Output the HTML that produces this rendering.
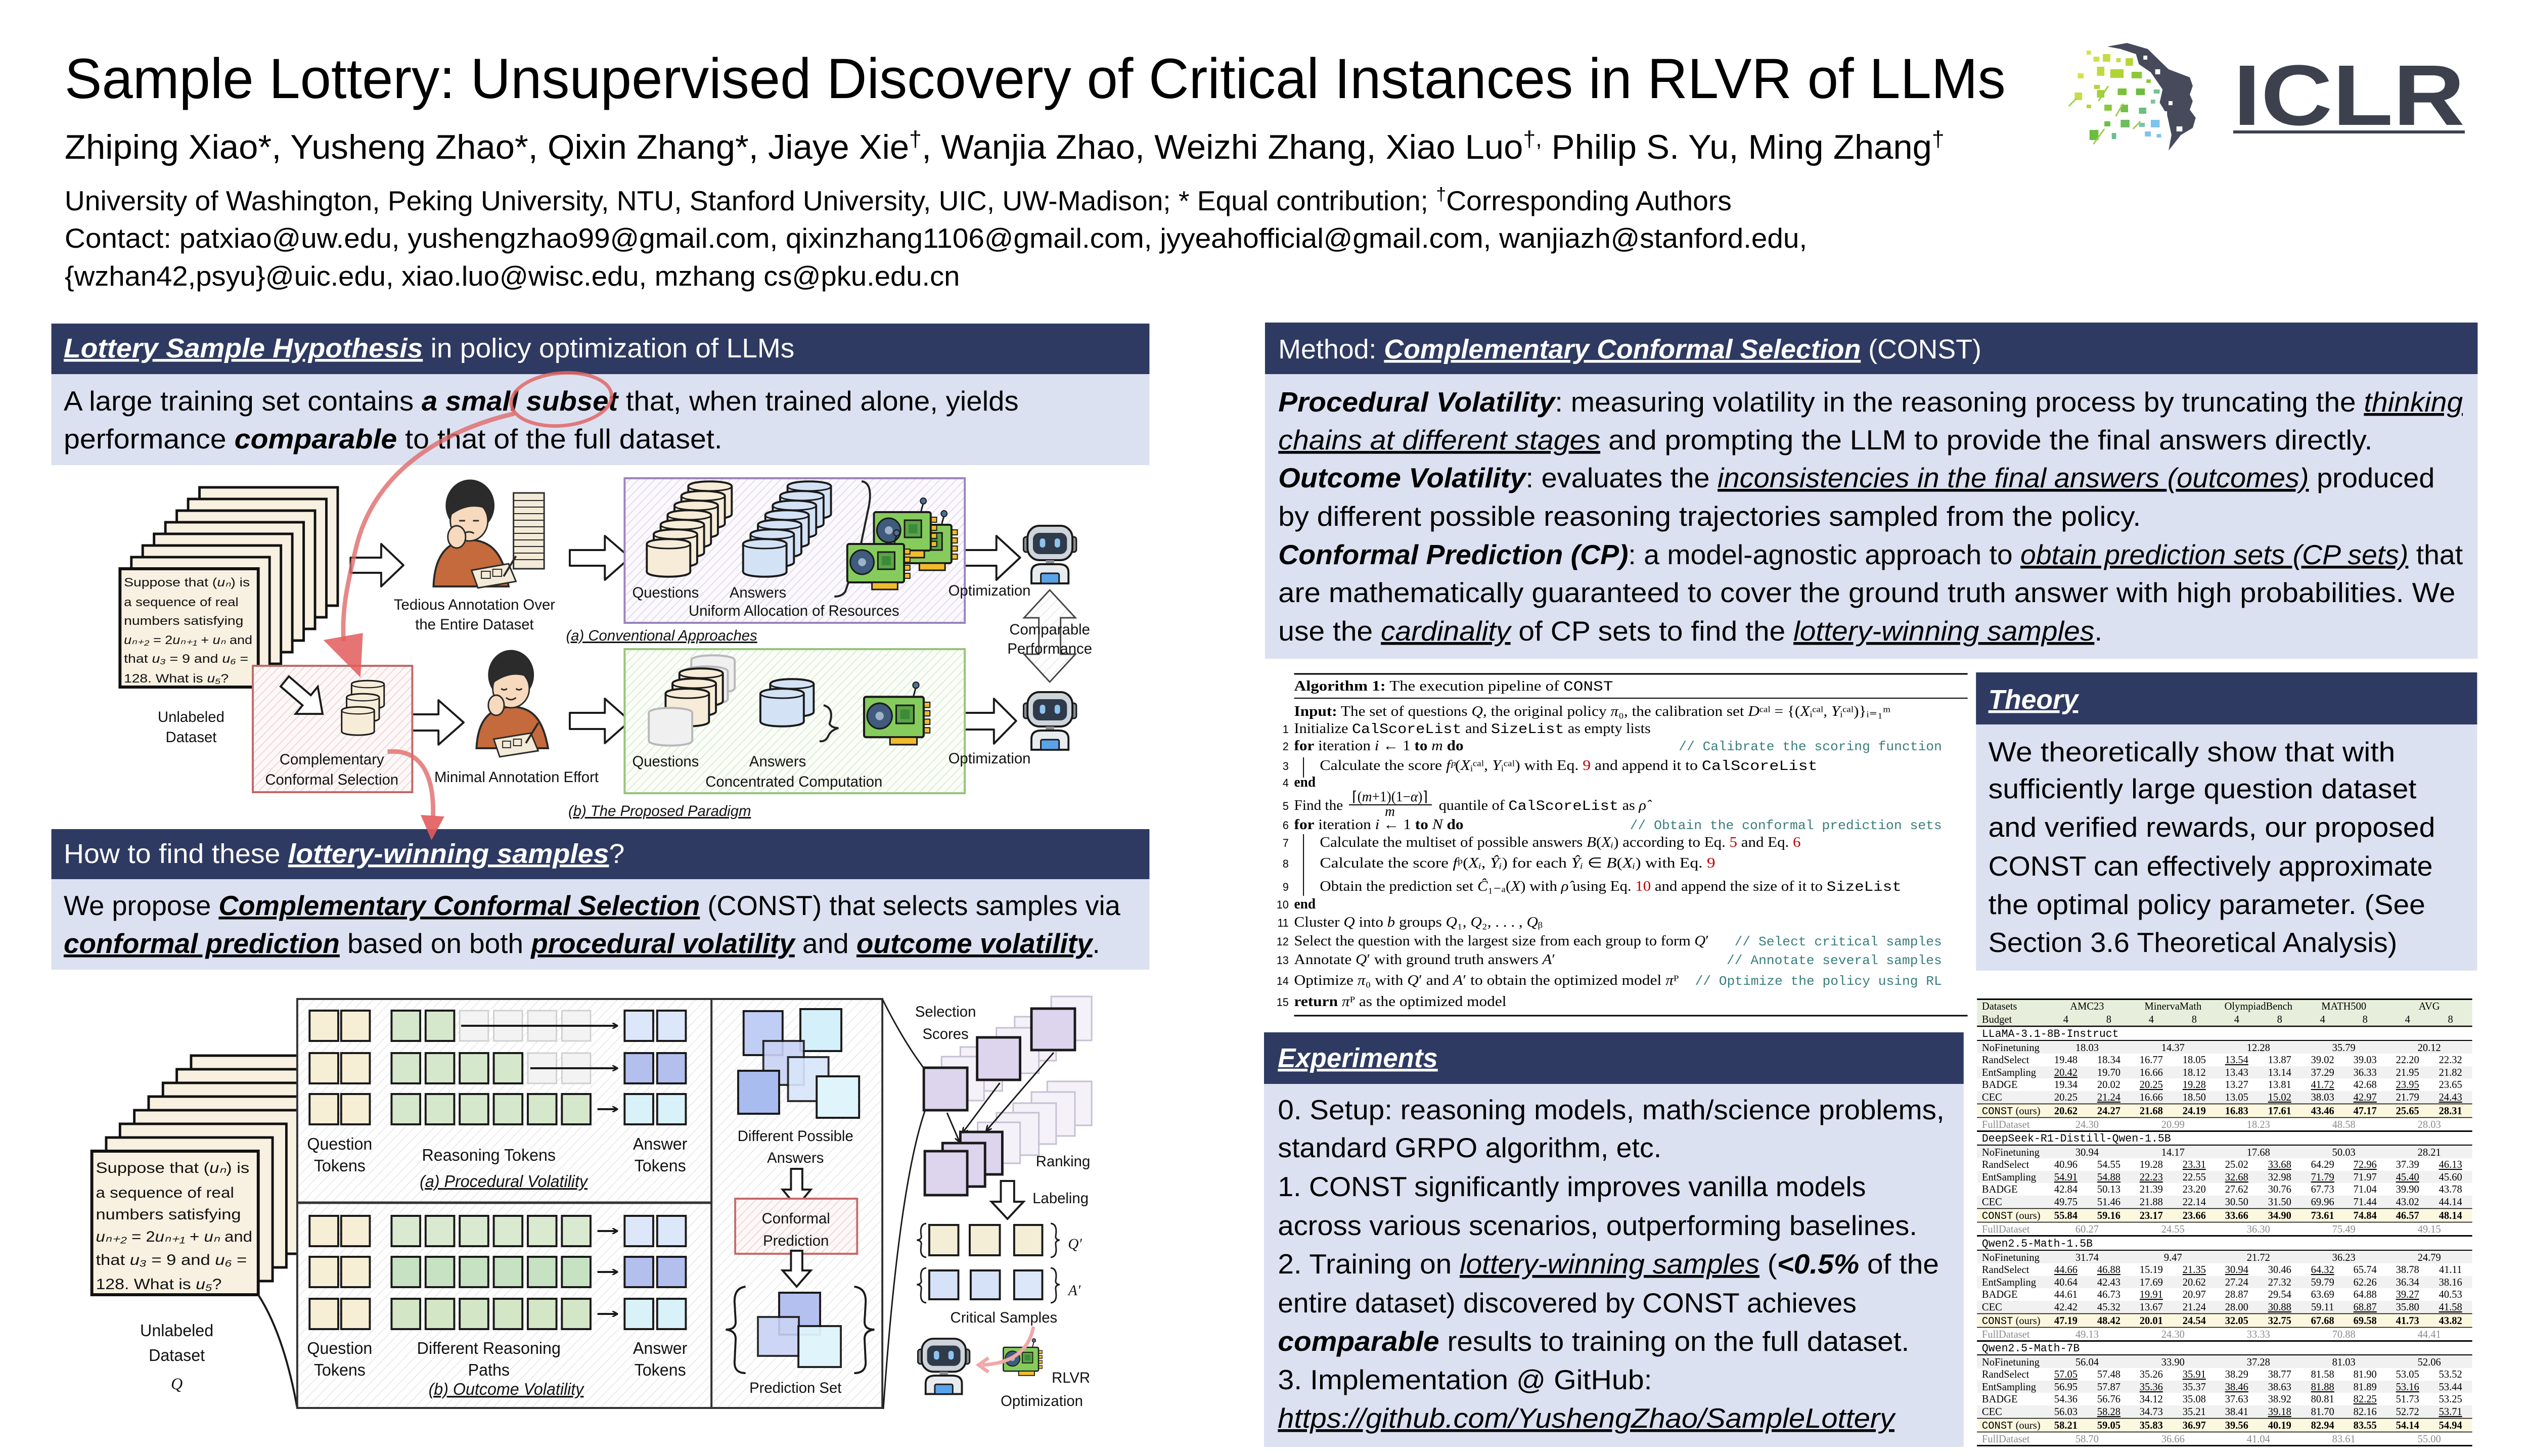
<!DOCTYPE html>
<html><head><meta charset="utf-8">
<style>
html,body{margin:0;padding:0;background:#fff;overflow:hidden;width:100%;height:100%;}
svg{display:block;width:100vw;height:100vh;}
text{font-family:"Liberation Sans",sans-serif;}
.s{font-family:"Liberation Serif",serif}
.m{font-family:"Liberation Mono",monospace}
.bi{font-weight:bold;font-style:italic}
.i{font-style:italic}
.b{font-weight:bold}
.u{text-decoration:underline}
.hd{font-size:54px;fill:#fff}
.bd{font-size:55px;fill:#000}
.lab{font-size:30px;text-anchor:middle;fill:#111}
.lab2{font-size:33px;text-anchor:middle;fill:#111}
.tk{stroke:#1a1a1a;stroke-width:4}
.tf{fill:#f3f3f3;stroke:#d0d0d0;stroke-width:3}
.cm{font-family:"Liberation Mono",monospace;fill:#3a7d7d;font-size:26px;text-anchor:end}
.al{font-family:"Liberation Serif",serif;font-size:28px}
.ln{font-family:"Liberation Serif",serif;font-size:22px;text-anchor:end}
.tb{font-family:"Liberation Serif",serif;font-size:21px}
.tc{font-family:"Liberation Serif",serif;font-size:21px;text-anchor:middle}
.tg{fill:#8a8a8a}
.pp{font-size:24px}
.pp2{font-size:30px}
</style></head><body>
<svg xmlns="http://www.w3.org/2000/svg" width="5120" height="2880" viewBox="0 0 5120 2880" preserveAspectRatio="none">
<defs>
<pattern id="hatch" width="14" height="14" patternUnits="userSpaceOnUse" patternTransform="rotate(45)"><line x1="0" y1="0" x2="0" y2="14" stroke="#e2e2e2" stroke-width="2.5"/></pattern>
<pattern id="hP" width="12" height="12" patternUnits="userSpaceOnUse" patternTransform="rotate(45)"><rect width="12" height="12" fill="#fbf9fd"/><line x1="0" y1="0" x2="0" y2="12" stroke="#ddd3ea" stroke-width="3"/></pattern>
<pattern id="hG" width="12" height="12" patternUnits="userSpaceOnUse" patternTransform="rotate(45)"><rect width="12" height="12" fill="#fafdf8"/><line x1="0" y1="0" x2="0" y2="12" stroke="#d6e8c8" stroke-width="3"/></pattern>
<pattern id="hR" width="12" height="12" patternUnits="userSpaceOnUse" patternTransform="rotate(45)"><rect width="12" height="12" fill="#fdf8f8"/><line x1="0" y1="0" x2="0" y2="12" stroke="#efcccc" stroke-width="3"/></pattern>
<marker id="ah" markerWidth="12" markerHeight="12" refX="10" refY="6" orient="auto" markerUnits="userSpaceOnUse"><path d="M0,0 L11,6 L0,12" fill="none" stroke="#1a1a1a" stroke-width="3"/></marker>
<g id="cylQ"><path d="M0,10 C0,-3 88,-3 88,10 L88,65 C88,78 0,78 0,65 Z" fill="#f6ecd8" stroke="#1a1a1a" stroke-width="4"/><path d="M0,10 C0,22 88,22 88,10" fill="none" stroke="#1a1a1a" stroke-width="3"/></g>
<g id="cylA"><path d="M0,10 C0,-3 88,-3 88,10 L88,65 C88,78 0,78 0,65 Z" fill="#d4e2f6" stroke="#1a1a1a" stroke-width="4"/><path d="M0,10 C0,22 88,22 88,10" fill="none" stroke="#1a1a1a" stroke-width="3"/></g>
<g id="cylF"><path d="M0,10 C0,-3 88,-3 88,10 L88,65 C88,78 0,78 0,65 Z" fill="#f0f0f0" stroke="#b8b8b8" stroke-width="4"/></g>
<g id="gpu">
<line x1="95" y1="8" x2="100" y2="-10" stroke="#1a1a1a" stroke-width="3"/><circle cx="100" cy="-14" r="6" fill="#4d6f92" stroke="#1a1a1a" stroke-width="2"/>
<rect x="115" y="18" width="12" height="10" fill="#f0bb2e" stroke="#1a1a1a" stroke-width="2"/><rect x="115" y="34" width="12" height="10" fill="#f0bb2e" stroke="#1a1a1a" stroke-width="2"/><rect x="115" y="50" width="12" height="10" fill="#f0bb2e" stroke="#1a1a1a" stroke-width="2"/><rect x="115" y="66" width="12" height="10" fill="#f0bb2e" stroke="#1a1a1a" stroke-width="2"/>
<rect x="0" y="8" width="115" height="76" rx="4" fill="#86cc5c" stroke="#1a1a1a" stroke-width="4"/>
<circle cx="30" cy="44" r="24" fill="#3f5b7d" stroke="#1a1a1a" stroke-width="3"/><circle cx="30" cy="44" r="8" fill="#9fb3c8"/>
<rect x="62" y="24" width="34" height="34" fill="#5aa544" stroke="#1a1a1a" stroke-width="3"/><rect x="70" y="32" width="18" height="18" fill="#3d8a3a"/>
<rect x="50" y="84" width="52" height="14" fill="#f0bb2e" stroke="#1a1a1a" stroke-width="3"/>
</g>
<g id="robot">
<rect x="0" y="22" width="12" height="30" rx="5" fill="#8a8f96" stroke="#1a1a1a" stroke-width="3"/>
<rect x="95" y="22" width="12" height="30" rx="5" fill="#8a8f96" stroke="#1a1a1a" stroke-width="3"/>
<rect x="8" y="0" width="91" height="68" rx="24" fill="#cfd4da" stroke="#1a1a1a" stroke-width="4"/>
<rect x="19" y="14" width="69" height="42" rx="13" fill="#2f3a4a"/>
<rect x="33" y="25" width="11" height="18" rx="5" fill="#8ec3ee"/>
<rect x="63" y="25" width="11" height="18" rx="5" fill="#8ec3ee"/>
<rect x="45" y="68" width="17" height="8" fill="#8a8f96"/>
<path d="M16,114 L16,92 Q16,76 36,76 L71,76 Q91,76 91,92 L91,114 Z" fill="#e9ecef" stroke="#1a1a1a" stroke-width="4"/>
<rect x="35" y="94" width="37" height="20" rx="3" fill="#5aa3e8" stroke="#1a1a1a" stroke-width="3"/>
</g>
</defs>

<!-- ================= HEADER ================= -->
<text x="131" y="194" font-size="112" textLength="3931" lengthAdjust="spacingAndGlyphs">Sample Lottery: Unsupervised Discovery of Critical Instances in RLVR of LLMs</text>
<text x="131" y="314" font-size="68" textLength="3807" lengthAdjust="spacingAndGlyphs">Zhiping Xiao*, Yusheng Zhao*, Qixin Zhang*, Jiaye Xie<tspan font-size="44" baseline-shift="super">†</tspan>, Wanjia Zhao, Weizhi Zhang, Xiao Luo<tspan font-size="44" baseline-shift="super">†,</tspan> Philip S. Yu, Ming Zhang<tspan font-size="44" baseline-shift="super">†</tspan></text>
<text x="131" y="416" font-size="55" textLength="3376" lengthAdjust="spacingAndGlyphs">University of Washington, Peking University, NTU, Stanford University, UIC, UW-Madison; * Equal contribution; <tspan font-size="36" baseline-shift="super">†</tspan>Corresponding Authors</text>
<text x="131" y="490" font-size="55" textLength="3529" lengthAdjust="spacingAndGlyphs">Contact: patxiao@uw.edu, yushengzhao99@gmail.com, qixinzhang1106@gmail.com, jyyeahofficial@gmail.com, wanjiazh@stanford.edu,</text>
<text x="131" y="565" font-size="55" textLength="1813" lengthAdjust="spacingAndGlyphs">{wzhan42,psyu}@uic.edu, xiao.luo@wisc.edu, mzhang cs@pku.edu.cn</text>

<!-- ICLR logo -->
<g>
<path d="M4268,92 L4308,85 L4350,97 L4374,120 L4392,137 L4435,153 L4441,170 L4435,187 L4441,200 L4435,217 L4447,233 L4441,253 L4417,267 L4392,298 L4398,267 L4389,227 L4374,203 L4380,177 L4356,143 L4332,127 L4326,107 L4295,97 Z" fill="#464a5a"/>
<rect x="4341" y="110" width="8" height="8" fill="#fff"/><rect x="4365" y="137" width="10" height="10" fill="#fff"/><rect x="4392" y="200" width="8" height="8" fill="#fff"/><rect x="4377" y="220" width="12" height="12" fill="#fff"/><rect x="4408" y="250" width="12" height="10" fill="#fff"/>
<rect x="4226" y="100" width="9" height="8" fill="#d4e24c"/><rect x="4240" y="112" width="12" height="10" fill="#cfe04a"/><rect x="4259" y="107" width="15" height="15" fill="#c5dc40"/><rect x="4286" y="115" width="9" height="8" fill="#c5dc40"/><rect x="4305" y="115" width="15" height="15" fill="#b6d638"/><rect x="4247" y="132" width="15" height="18" fill="#c0da3e"/><rect x="4274" y="137" width="27" height="17" fill="#aed436"/><rect x="4317" y="142" width="21" height="13" fill="#8cc83a"/><rect x="4208" y="145" width="12" height="10" fill="#d4e24c"/><rect x="4347" y="157" width="9" height="7" fill="#8cc83a"/><rect x="4241" y="168" width="12" height="8" fill="#b4d43a"/><rect x="4289" y="175" width="18" height="13" fill="#7cc03a"/><rect x="4326" y="175" width="18" height="13" fill="#6cbc40"/><rect x="4202" y="183" width="15" height="15" fill="#c6dc44"/><rect x="4247" y="178" width="15" height="15" fill="#a4d03a"/><rect x="4362" y="177" width="12" height="8" fill="#74c090"/><rect x="4262" y="207" width="15" height="12" fill="#8cc83c"/><rect x="4295" y="207" width="15" height="15" fill="#74bf48"/><rect x="4332" y="213" width="15" height="12" fill="#6cbf80"/><rect x="4226" y="207" width="9" height="7" fill="#b4d43a"/><rect x="4356" y="197" width="9" height="8" fill="#80c4a0"/><rect x="4262" y="240" width="12" height="10" fill="#6cbd48"/><rect x="4295" y="237" width="18" height="15" fill="#6cbd60"/><rect x="4332" y="243" width="12" height="8" fill="#78c4b0"/><rect x="4356" y="237" width="18" height="15" fill="#7cc4ec"/><rect x="4232" y="257" width="18" height="20" fill="#6cbc40"/><rect x="4277" y="263" width="9" height="12" fill="#6cbf90"/><rect x="4344" y="260" width="12" height="10" fill="#7cc4ec"/><rect x="4368" y="265" width="9" height="7" fill="#7cc4ec"/>
<path d="M4190,210 L4205,195 M4250,200 L4270,170 M4285,230 L4300,205 M4240,285 L4262,255 M4320,255 L4335,240" stroke="#9ccc44" stroke-width="3" fill="none"/>
<text x="4523" y="247" font-size="170" font-weight="bold" fill="#3c414d" textLength="469" lengthAdjust="spacingAndGlyphs">ICLR</text>
<rect x="4523" y="258" width="469" height="6" fill="#3c414d"/>
</g>

<!-- ================= LEFT COLUMN BOXES ================= -->
<rect x="104" y="640" width="2224" height="100" fill="#2e3a62"/>
<rect x="104" y="740" width="2224" height="180" fill="#dce1f1"/>
<text class="hd" x="129" y="707" textLength="1480" lengthAdjust="spacingAndGlyphs"><tspan class="bi u">Lottery Sample Hypothesis</tspan> in policy optimization of LLMs</text>
<text class="bd" x="129" y="812" font-size="56" textLength="1934" lengthAdjust="spacingAndGlyphs">A large training set contains <tspan class="bi">a small subset</tspan> that, when trained alone, yields</text>
<text class="bd" x="129" y="887" font-size="56" textLength="1334" lengthAdjust="spacingAndGlyphs">performance <tspan class="bi">comparable</tspan> to that of the full dataset.</text>

<rect x="104" y="1640" width="2224" height="99" fill="#2e3a62"/>
<rect x="104" y="1739" width="2224" height="179" fill="#dce1f1"/>
<text class="hd" x="129" y="1707" textLength="1136" lengthAdjust="spacingAndGlyphs">How to find these <tspan class="bi u">lottery-winning samples</tspan>?</text>
<text class="bd" x="129" y="1810" font-size="56" textLength="2140" lengthAdjust="spacingAndGlyphs">We propose <tspan class="bi u">Complementary Conformal Selection</tspan> (CONST) that selects samples via</text>
<text class="bd" x="129" y="1885" font-size="56" textLength="2099" lengthAdjust="spacingAndGlyphs"><tspan class="bi u">conformal prediction</tspan> based on both <tspan class="bi u">procedural volatility</tspan> and <tspan class="bi u">outcome volatility</tspan>.</text>

<!-- ================= FIGURE 1 ================= -->
<g fill="#f8f0e0" stroke="#111" stroke-width="5">
<rect x="404" y="964" width="280" height="234"/>
<rect x="381" y="987" width="280" height="234"/>
<rect x="358" y="1010" width="280" height="234"/>
<rect x="335" y="1033" width="280" height="234"/>
<rect x="312" y="1056" width="280" height="234"/>
<rect x="289" y="1079" width="280" height="234"/>
<rect x="266" y="1102" width="280" height="234"/>
<rect x="243" y="1125" width="280" height="234" stroke-width="6"/>
</g>
<g class="pp" fill="#111">
<text x="251" y="1160" textLength="255" lengthAdjust="spacingAndGlyphs">Suppose that (<tspan class="i">uₙ</tspan>) is</text>
<text x="251" y="1199" textLength="232" lengthAdjust="spacingAndGlyphs">a sequence of real</text>
<text x="251" y="1236" textLength="242" lengthAdjust="spacingAndGlyphs">numbers satisfying</text>
<text x="251" y="1274" textLength="260" lengthAdjust="spacingAndGlyphs"><tspan class="i">uₙ₊₂</tspan> = 2<tspan class="i">uₙ₊₁</tspan> + <tspan class="i">uₙ</tspan> and</text>
<text x="251" y="1311" textLength="252" lengthAdjust="spacingAndGlyphs">that <tspan class="i">u₃</tspan> = 9 and <tspan class="i">u₆</tspan> =</text>
<text x="251" y="1350" textLength="212" lengthAdjust="spacingAndGlyphs">128. What is <tspan class="i">u₅</tspan>?</text>
</g>
<text class="lab" x="387" y="1428" font-size="32">Unlabeled</text>
<text class="lab" x="387" y="1468" font-size="32">Dataset</text>

<g fill="#fff" stroke="#1a1a1a" stroke-width="4" stroke-linejoin="round">
<path d="M710,1103 L772,1103 L772,1076 L817,1118 L772,1160 L772,1133 L710,1133 Z"/>
<path d="M1154,1088 L1225,1088 L1225,1060 L1276,1103 L1225,1147 L1225,1119 L1154,1119 Z"/>
<path d="M1951,1088 L2018,1088 L2018,1060 L2066,1103 L2018,1147 L2018,1119 L1951,1119 Z"/>
<path d="M817,1413 L888,1413 L888,1385 L939,1429 L888,1473 L888,1445 L817,1445 Z"/>
<path d="M1154,1410 L1225,1410 L1225,1382 L1276,1426 L1225,1470 L1225,1442 L1154,1442 Z"/>
<path d="M1951,1410 L2013,1410 L2013,1382 L2058,1426 L2013,1471 L2013,1443 L1951,1443 Z"/>
</g>

<!-- tired person -->
<g stroke="#2a2a2a" stroke-width="3">
<rect x="1040" y="975" width="62" height="150" fill="#f3ead8"/>
<path d="M1040,990 H1102 M1040,1003 H1102 M1040,1016 H1102 M1040,1029 H1102 M1040,1042 H1102 M1040,1055 H1102 M1040,1068 H1102 M1040,1081 H1102 M1040,1094 H1102 M1040,1107 H1102" fill="none" stroke-width="2"/>
<path d="M878,1160 C880,1100 905,1070 950,1068 C995,1068 1020,1095 1030,1160 Z" fill="#c56a3c" stroke-width="4"/>
<ellipse cx="952" cy="1000" rx="48" ry="50" fill="#2b2b2b"/>
<ellipse cx="950" cy="1030" rx="38" ry="40" fill="#f7d9bd"/>
<path d="M912,1015 Q930,975 990,995 L988,1008 Q950,992 912,1020 Z" fill="#2b2b2b" stroke="none"/>
<path d="M930,1030 h12 M958,1030 h12 M940,1055 q10,-6 20,0" fill="none"/>
<ellipse cx="925" cy="1062" rx="18" ry="22" fill="#f7d9bd"/>
<polygon points="955,1128 1030,1115 1045,1150 968,1163" fill="#f3ead8"/>
<rect x="975" y="1130" width="18" height="14" fill="none" stroke-width="2"/><rect x="998" y="1126" width="18" height="14" fill="none" stroke-width="2"/>
<line x1="1020" y1="1140" x2="1045" y2="1100" stroke-width="4"/>
</g>
<text class="lab" x="961" y="1206">Tedious Annotation Over</text>
<text class="lab" x="961" y="1245">the Entire Dataset</text>

<!-- purple box -->
<rect x="1265" y="946" width="689" height="286" fill="url(#hP)" stroke="#9b84bd" stroke-width="4"/>
<use href="#cylQ" x="1394" y="952"/><use href="#cylQ" x="1380" y="971"/><use href="#cylQ" x="1366" y="990"/><use href="#cylQ" x="1352" y="1009"/><use href="#cylQ" x="1338" y="1028"/><use href="#cylQ" x="1324" y="1047"/><use href="#cylQ" x="1310" y="1066"/>
<use href="#cylA" x="1595" y="952"/><use href="#cylA" x="1580" y="971"/><use href="#cylA" x="1565" y="990"/><use href="#cylA" x="1550" y="1009"/><use href="#cylA" x="1535" y="1028"/><use href="#cylA" x="1520" y="1047"/><use href="#cylA" x="1505" y="1066"/>
<path d="M1745,952 Q1768,955 1760,1000 L1745,1070 Q1740,1090 1758,1098 Q1735,1102 1728,1125 L1712,1170 Q1705,1180 1690,1180" fill="none" stroke="#222" stroke-width="4"/>
<use href="#gpu" transform="translate(1812,1030)"/>
<use href="#gpu" transform="translate(1770,1005)"/>
<use href="#gpu" transform="translate(1716,1068)"/>
<text class="lab" x="1348" y="1182" font-size="28">Questions</text>
<text class="lab" x="1535" y="1182" font-size="28">Answers</text>
<text class="lab" x="1608" y="1218">Uniform Allocation of Resources</text>
<text class="lab i u" x="1340" y="1267">(a) Conventional Approaches</text>

<use href="#robot" x="2073" y="1040"/>
<text class="lab" x="2004" y="1178" font-size="28">Optimization</text>
<path d="M2126,1167 L2178,1222 L2148,1222 L2148,1294 L2178,1294 L2126,1349 L2074,1294 L2104,1294 L2104,1222 L2074,1222 Z" fill="url(#hatch)" stroke="#444" stroke-width="3"/>
<text class="lab" x="2126" y="1255" font-size="28">Comparable</text>
<text class="lab" x="2126" y="1293" font-size="28">Performance</text>

<!-- CCS box -->
<rect x="512" y="1317" width="323" height="250" fill="url(#hR)" stroke="#c06868" stroke-width="4"/>
<path d="M565,1367 L623,1367 L623,1345 L665,1380 L623,1415 L623,1393 L565,1393 Z" transform="rotate(40 615 1380)" fill="#fff" stroke="#1a1a1a" stroke-width="4"/>
<use href="#cylQ" transform="translate(712,1346) scale(0.75)"/>
<use href="#cylQ" transform="translate(702,1372) scale(0.75)"/>
<use href="#cylQ" transform="translate(692,1398) scale(0.75)"/>
<text class="lab" x="672" y="1512">Complementary</text>
<text class="lab" x="672" y="1552">Conformal Selection</text>

<!-- happy person -->
<g stroke="#2a2a2a" stroke-width="3">
<path d="M965,1480 C968,1420 995,1400 1035,1398 C1080,1398 1100,1425 1110,1480 Z" fill="#c56a3c" stroke-width="4"/>
<ellipse cx="1035" cy="1335" rx="45" ry="48" fill="#2b2b2b"/>
<ellipse cx="1035" cy="1362" rx="37" ry="38" fill="#f7d9bd"/>
<path d="M998,1345 Q1020,1305 1072,1330 L1070,1340 Q1035,1325 998,1352 Z" fill="#2b2b2b" stroke="none"/>
<path d="M1015,1362 q6,5 12,0 M1045,1362 q6,5 12,0 M1025,1380 q10,8 20,0" fill="none"/>
<ellipse cx="1005" cy="1395" rx="16" ry="20" fill="#f7d9bd"/>
<polygon points="1000,1462 1075,1450 1090,1485 1012,1497" fill="#f3ead8"/>
<rect x="1018" y="1466" width="16" height="13" fill="none" stroke-width="2"/><rect x="1040" y="1462" width="16" height="13" fill="none" stroke-width="2"/>
<line x1="1065" y1="1470" x2="1090" y2="1430" stroke-width="4"/>
</g>
<text class="lab" x="1046" y="1547">Minimal Annotation Effort</text>

<!-- green box -->
<rect x="1265" y="1284" width="689" height="285" fill="url(#hG)" stroke="#95c47a" stroke-width="4"/>
<use href="#cylF" x="1400" y="1296"/><use href="#cylF" x="1386" y="1318"/>
<use href="#cylQ" x="1376" y="1322"/><use href="#cylQ" x="1362" y="1342"/><use href="#cylQ" x="1348" y="1362"/>
<use href="#cylF" x="1314" y="1400"/>
<use href="#cylA" x="1560" y="1343"/><use href="#cylA" x="1540" y="1362"/>
<path d="M1668,1395 Q1688,1400 1682,1425 L1680,1432 Q1685,1440 1698,1440 Q1682,1445 1678,1455 Q1672,1468 1660,1466" fill="none" stroke="#222" stroke-width="4"/>
<use href="#gpu" transform="translate(1750,1370) scale(1.05)"/>
<text class="lab" x="1348" y="1516" font-size="28">Questions</text>
<text class="lab" x="1575" y="1516" font-size="28">Answers</text>
<text class="lab" x="1608" y="1556">Concentrated Computation</text>
<text class="lab i u" x="1336" y="1614">(b) The Proposed Paradigm</text>

<use href="#robot" x="2073" y="1369"/>
<text class="lab" x="2004" y="1510" font-size="28">Optimization</text>

<!-- red circle and arrows -->
<ellipse cx="1137" cy="790" rx="102" ry="52" fill="none" stroke="#e06666" stroke-width="7" opacity="0.85" transform="rotate(-5 1137 790)"/>
<path d="M1042,818 C900,850 760,930 722,1080 C702,1160 692,1210 696,1268" fill="none" stroke="#e06a6a" stroke-width="9" opacity="0.8"/>
<polygon points="655,1266 735,1252 730,1340" fill="#e25c5c" opacity="0.85"/>
<path d="M785,1487 C850,1480 880,1530 877,1615" fill="none" stroke="#e06a6a" stroke-width="9" opacity="0.8"/>
<polygon points="852,1612 900,1615 874,1662" fill="#e25c5c" opacity="0.9"/>

<!-- ================= FIGURE 2 ================= -->
<g fill="#f8f0e0" stroke="#111" stroke-width="5">
<rect x="387" y="2088" width="337" height="284"/>
<rect x="358" y="2115" width="337" height="284"/>
<rect x="330" y="2142" width="337" height="284"/>
<rect x="301" y="2169" width="337" height="284"/>
<rect x="272" y="2196" width="337" height="284"/>
<rect x="243" y="2223" width="337" height="284"/>
<rect x="215" y="2250" width="337" height="284"/>
<rect x="186" y="2277" width="337" height="284" stroke-width="6"/>
</g>
<g class="pp2" fill="#111">
<text x="194" y="2320" textLength="311" lengthAdjust="spacingAndGlyphs">Suppose that (<tspan class="i">uₙ</tspan>) is</text>
<text x="194" y="2369" textLength="280" lengthAdjust="spacingAndGlyphs">a sequence of real</text>
<text x="194" y="2412" textLength="294" lengthAdjust="spacingAndGlyphs">numbers satisfying</text>
<text x="194" y="2456" textLength="317" lengthAdjust="spacingAndGlyphs"><tspan class="i">uₙ₊₂</tspan> = 2<tspan class="i">uₙ₊₁</tspan> + <tspan class="i">uₙ</tspan> and</text>
<text x="194" y="2502" textLength="306" lengthAdjust="spacingAndGlyphs">that <tspan class="i">u₃</tspan> = 9 and <tspan class="i">u₆</tspan> =</text>
<text x="194" y="2550" textLength="255" lengthAdjust="spacingAndGlyphs">128. What is <tspan class="i">u₅</tspan>?</text>
</g>
<text class="lab2" x="358" y="2643" font-size="38">Unlabeled</text>
<text class="lab2" x="358" y="2692" font-size="38">Dataset</text>
<text class="lab2 s i" x="358" y="2748" font-size="40">Q</text>
<path d="M523,2561 Q575,2640 602,2785" fill="none" stroke="#1a1a1a" stroke-width="4"/>

<!-- panels -->
<rect x="602" y="1976" width="839" height="809" fill="#fff"/>
<rect x="602" y="1976" width="839" height="809" fill="url(#hatch)" stroke="#333" stroke-width="4"/>
<line x1="602" y1="2379" x2="1441" y2="2379" stroke="#333" stroke-width="5"/>
<rect x="1441" y="1976" width="346" height="809" fill="#fff"/>
<rect x="1441" y="1976" width="346" height="809" fill="url(#hatch)" stroke="#333" stroke-width="4"/>
<path d="M1787,1976 Q1830,2060 1872,2114" fill="none" stroke="#1a1a1a" stroke-width="3"/>
<path d="M1789,2787 Q1820,2350 1873,2198" fill="none" stroke="#1a1a1a" stroke-width="3"/>

<g class="tk">
<rect x="627" y="1999" width="58" height="60" fill="#f6efd6"/><rect x="691" y="1999" width="58" height="60" fill="#f6efd6"/>
<rect x="793" y="1999" width="58" height="60" fill="#d6e8cc"/><rect x="862" y="1999" width="58" height="60" fill="#d6e8cc"/>
<rect x="1265" y="1999" width="58" height="60" fill="#dce8fa"/><rect x="1331" y="1999" width="58" height="60" fill="#dce8fa"/>
<rect x="627" y="2083" width="58" height="60" fill="#f6efd6"/><rect x="691" y="2083" width="58" height="60" fill="#f6efd6"/>
<rect x="793" y="2083" width="58" height="60" fill="#d6e8cc"/><rect x="862" y="2083" width="58" height="60" fill="#d6e8cc"/><rect x="931" y="2083" width="58" height="60" fill="#d6e8cc"/><rect x="1000" y="2083" width="58" height="60" fill="#d6e8cc"/>
<rect x="1265" y="2083" width="58" height="60" fill="#b3c0ee"/><rect x="1331" y="2083" width="58" height="60" fill="#b3c0ee"/>
<rect x="627" y="2164" width="58" height="60" fill="#f6efd6"/><rect x="691" y="2164" width="58" height="60" fill="#f6efd6"/>
<rect x="793" y="2164" width="58" height="60" fill="#d6e8cc"/><rect x="862" y="2164" width="58" height="60" fill="#d6e8cc"/><rect x="931" y="2164" width="58" height="60" fill="#d6e8cc"/><rect x="1000" y="2164" width="58" height="60" fill="#d6e8cc"/><rect x="1069" y="2164" width="58" height="60" fill="#d6e8cc"/><rect x="1138" y="2164" width="58" height="60" fill="#d6e8cc"/>
<rect x="1265" y="2164" width="58" height="60" fill="#d9f1f9"/><rect x="1331" y="2164" width="58" height="60" fill="#d9f1f9"/>
</g>
<g class="tf">
<rect x="931" y="1999" width="58" height="60"/><rect x="1000" y="1999" width="58" height="60"/><rect x="1069" y="1999" width="58" height="60"/><rect x="1138" y="1999" width="58" height="60"/>
<rect x="1069" y="2083" width="58" height="60"/><rect x="1138" y="2083" width="58" height="60"/>
</g>
<g stroke="#1a1a1a" stroke-width="4" marker-end="url(#ah)">
<line x1="934" y1="2029" x2="1250" y2="2029"/>
<line x1="1074" y1="2113" x2="1250" y2="2113"/>
<line x1="1210" y1="2194" x2="1250" y2="2194"/>
<line x1="1210" y1="2435" x2="1250" y2="2435"/>
<line x1="1210" y1="2516" x2="1250" y2="2516"/>
<line x1="1210" y1="2599" x2="1250" y2="2599"/>
</g>
<g class="tk">
<rect x="627" y="2405" width="58" height="60" fill="#f6efd6"/><rect x="691" y="2405" width="58" height="60" fill="#f6efd6"/>
<rect x="793" y="2405" width="58" height="60" fill="#d9ead0"/><rect x="862" y="2405" width="58" height="60" fill="#d9ead0"/><rect x="931" y="2405" width="58" height="60" fill="#d9ead0"/><rect x="1000" y="2405" width="58" height="60" fill="#d9ead0"/><rect x="1069" y="2405" width="58" height="60" fill="#d9ead0"/><rect x="1138" y="2405" width="58" height="60" fill="#d9ead0"/>
<rect x="1265" y="2405" width="58" height="60" fill="#dce8fa"/><rect x="1331" y="2405" width="58" height="60" fill="#dce8fa"/>
<rect x="627" y="2486" width="58" height="60" fill="#f6efd6"/><rect x="691" y="2486" width="58" height="60" fill="#f6efd6"/>
<rect x="793" y="2486" width="58" height="60" fill="#c6e2c2"/><rect x="862" y="2486" width="58" height="60" fill="#c6e2c2"/><rect x="931" y="2486" width="58" height="60" fill="#c6e2c2"/><rect x="1000" y="2486" width="58" height="60" fill="#c6e2c2"/><rect x="1069" y="2486" width="58" height="60" fill="#c6e2c2"/><rect x="1138" y="2486" width="58" height="60" fill="#c6e2c2"/>
<rect x="1265" y="2486" width="58" height="60" fill="#b3c0ee"/><rect x="1331" y="2486" width="58" height="60" fill="#b3c0ee"/>
<rect x="627" y="2569" width="58" height="60" fill="#f6efd6"/><rect x="691" y="2569" width="58" height="60" fill="#f6efd6"/>
<rect x="793" y="2569" width="58" height="60" fill="#d3e6c6"/><rect x="862" y="2569" width="58" height="60" fill="#d3e6c6"/><rect x="931" y="2569" width="58" height="60" fill="#d3e6c6"/><rect x="1000" y="2569" width="58" height="60" fill="#d3e6c6"/><rect x="1069" y="2569" width="58" height="60" fill="#d3e6c6"/><rect x="1138" y="2569" width="58" height="60" fill="#d3e6c6"/>
<rect x="1265" y="2569" width="58" height="60" fill="#d9f1f9"/><rect x="1331" y="2569" width="58" height="60" fill="#d9f1f9"/>
</g>
<text class="lab2" x="688" y="2274">Question</text><text class="lab2" x="688" y="2317">Tokens</text>
<text class="lab2" x="990" y="2296">Reasoning Tokens</text>
<text class="lab2" x="1337" y="2274">Answer</text><text class="lab2" x="1337" y="2317">Tokens</text>
<text class="lab2 i u" x="1020" y="2348" font-size="34">(a) Procedural Volatility</text>
<text class="lab2" x="688" y="2678">Question</text><text class="lab2" x="688" y="2721">Tokens</text>
<text class="lab2" x="990" y="2678">Different Reasoning</text><text class="lab2" x="990" y="2721">Paths</text>
<text class="lab2" x="1337" y="2678">Answer</text><text class="lab2" x="1337" y="2721">Tokens</text>
<text class="lab2 i u" x="1025" y="2759" font-size="34">(b) Outcome Volatility</text>

<!-- middle panel -->
<g class="tk" stroke-width="4">
<rect x="1506" y="2000" width="79" height="87" fill="#c0cdf5"/>
<rect x="1621" y="1996" width="83" height="83" fill="#d4f0fa"/>
<rect x="1546" y="2059" width="82" height="87" fill="#c8d3f5" opacity="0.9"/>
<rect x="1596" y="2091" width="82" height="87" fill="#d8e6fb" opacity="0.9"/>
<rect x="1495" y="2118" width="83" height="85" fill="#a9bcef"/>
<rect x="1654" y="2129" width="86" height="82" fill="#dff4fb"/>
</g>
<text class="lab" x="1611" y="2257">Different Possible</text>
<text class="lab" x="1611" y="2300">Answers</text>
<path d="M1602,2312 L1625,2312 L1625,2353 L1642,2353 L1613.5,2387 L1585,2353 L1602,2353 Z" fill="#fff" stroke="#1a1a1a" stroke-width="4"/>
<rect x="1489" y="2371" width="247" height="109" fill="url(#hR)" stroke="#c86a6a" stroke-width="4"/>
<text class="lab" x="1612" y="2420">Conformal</text>
<text class="lab" x="1612" y="2464">Prediction</text>
<path d="M1602,2474 L1625,2474 L1625,2513 L1642,2513 L1613.5,2545 L1585,2513 L1602,2513 Z" fill="#fff" stroke="#1a1a1a" stroke-width="4"/>
<path d="M1510,2545 Q1485,2548 1488,2580 L1490,2615 Q1490,2630 1470,2630 Q1490,2632 1490,2648 L1488,2690 Q1485,2716 1510,2716" fill="none" stroke="#1a1a1a" stroke-width="4"/>
<path d="M1730,2545 Q1756,2548 1753,2580 L1751,2615 Q1751,2630 1771,2630 Q1751,2632 1751,2648 L1753,2690 Q1756,2716 1730,2716" fill="none" stroke="#1a1a1a" stroke-width="4"/>
<g class="tk">
<rect x="1578" y="2557" width="83" height="83" fill="#b4c0ef"/>
<rect x="1535" y="2605" width="83" height="77" fill="#c8d3f5" opacity="0.9"/>
<rect x="1617" y="2623" width="86" height="81" fill="#dff4fb" opacity="0.95"/>
</g>
<text class="lab" x="1611" y="2755">Prediction Set</text>

<!-- right area -->
<g fill="#f4f1f9" stroke="#c6c0d2" stroke-width="3">
<rect x="2129" y="1971" width="82" height="87"/>
<rect x="2055" y="2011" width="84" height="87"/>
<rect x="2018" y="2033" width="86" height="90"/>
<rect x="1945" y="2071" width="85" height="87"/>
<rect x="1907" y="2090" width="86" height="87"/>
<rect x="2121" y="2139" width="90" height="87"/>
<rect x="2089" y="2160" width="88" height="87"/>
<rect x="2052" y="2182" width="87" height="81"/>
<rect x="2018" y="2201" width="86" height="84"/>
<rect x="1980" y="2220" width="86" height="81"/>
</g>
<g fill="#ddd4ee" stroke="#1a1a1a" stroke-width="5">
<rect x="2089" y="1995" width="88" height="82"/>
<rect x="1979" y="2052" width="87" height="84"/>
<rect x="1871" y="2112" width="88" height="84"/>
<rect x="1945" y="2239" width="85" height="84"/>
<rect x="1909" y="2261" width="86" height="86"/>
<rect x="1873" y="2277" width="86" height="87"/>
</g>
<g stroke="#1a1a1a" stroke-width="3" marker-end="url(#ah)">
<line x1="2134" y1="2082" x2="1998" y2="2236"/>
<line x1="2025" y1="2142" x2="1950" y2="2240"/>
<line x1="1918" y1="2201" x2="1943" y2="2258"/>
</g>
<text class="lab" x="1915" y="2011" font-size="32">Selection</text>
<text class="lab" x="1915" y="2055" font-size="32">Scores</text>
<text class="lab" x="2153" y="2307" font-size="32">Ranking</text>
<path d="M2027,2336 L2054,2336 L2054,2377 L2073,2377 L2040.5,2411 L2008,2377 L2027,2377 Z" fill="#fff" stroke="#1a1a1a" stroke-width="4"/>
<text class="lab" x="2148" y="2380" font-size="32">Labeling</text>
<g class="tk" stroke-width="5">
<rect x="1882" y="2423" width="59" height="60" fill="#f5eed6"/><rect x="1964" y="2423" width="61" height="60" fill="#f5eed6"/><rect x="2054" y="2423" width="57" height="60" fill="#f5eed6"/>
<rect x="1882" y="2513" width="59" height="57" fill="#d6e2f8"/><rect x="1966" y="2513" width="59" height="57" fill="#d6e2f8"/><rect x="2054" y="2513" width="57" height="57" fill="#dce8fa"/>
</g>
<g fill="none" stroke="#1a1a1a" stroke-width="3">
<path d="M1876,2420 Q1864,2421 1865,2438 L1866,2446 Q1866,2452 1857,2453 Q1866,2454 1866,2460 L1865,2470 Q1864,2486 1876,2487"/>
<path d="M2128,2420 Q2140,2421 2139,2438 L2138,2446 Q2138,2452 2146,2453 Q2138,2454 2138,2460 L2139,2470 Q2140,2486 2128,2487"/>
<path d="M1876,2508 Q1864,2509 1865,2526 L1866,2534 Q1866,2540 1857,2541 Q1866,2542 1866,2548 L1865,2560 Q1864,2576 1876,2577"/>
<path d="M2128,2508 Q2140,2509 2139,2526 L2138,2534 Q2138,2540 2146,2541 Q2138,2542 2138,2548 L2139,2560 Q2140,2576 2128,2577"/>
</g>
<text class="lab s i" x="2177" y="2470" font-size="38">Q′</text>
<text class="lab s i" x="2176" y="2562" font-size="38">A′</text>
<text class="lab" x="2033" y="2616" font-size="32">Critical Samples</text>
<use href="#robot" transform="translate(1859,2648) scale(0.98,0.96)"/>
<use href="#gpu" transform="translate(2032,2660) scale(0.62)"/>
<path d="M2093,2624 Q2080,2695 1990,2700" fill="none" stroke="#f0a8a8" stroke-width="7"/>
<path d="M2002,2686 L1982,2700 L2002,2714" fill="none" stroke="#f0a8a8" stroke-width="7"/>
<text class="lab" x="2169" y="2735" font-size="32">RLVR</text>
<text class="lab" x="2110" y="2781" font-size="32">Optimization</text>

<!-- ================= RIGHT COLUMN ================= -->
<rect x="2562" y="638" width="2456" height="102" fill="#2e3a62"/>
<rect x="2562" y="740" width="2456" height="563" fill="#dce1f1"/>
<text class="hd" x="2589" y="709" textLength="1424" lengthAdjust="spacingAndGlyphs">Method: <tspan class="bi u">Complementary Conformal Selection</tspan> (CONST)</text>
<g class="bd">
<text x="2589" y="814" textLength="2399" lengthAdjust="spacingAndGlyphs"><tspan class="bi">Procedural Volatility</tspan>: measuring volatility in the reasoning process by truncating the <tspan class="i u">thinking</tspan></text>
<text x="2589" y="889" textLength="2216" lengthAdjust="spacingAndGlyphs"><tspan class="i u">chains at different stages</tspan> and prompting the LLM to provide the final answers directly.</text>
<text x="2589" y="964" textLength="2342" lengthAdjust="spacingAndGlyphs"><tspan class="bi">Outcome Volatility</tspan>: evaluates the <tspan class="i u">inconsistencies in the final answers (outcomes)</tspan> produced</text>
<text x="2589" y="1040" textLength="1747" lengthAdjust="spacingAndGlyphs">by different possible reasoning trajectories sampled from the policy.</text>
<text x="2589" y="1116" textLength="2399" lengthAdjust="spacingAndGlyphs"><tspan class="bi">Conformal Prediction (CP)</tspan>: a model-agnostic approach to <tspan class="i u">obtain prediction sets (CP sets)</tspan> that</text>
<text x="2589" y="1191" textLength="2384" lengthAdjust="spacingAndGlyphs">are mathematically guaranteed to cover the ground truth answer with high probabilities. We</text>
<text x="2589" y="1267" textLength="1669" lengthAdjust="spacingAndGlyphs">use the <tspan class="i u">cardinality</tspan> of CP sets to find the <tspan class="i u">lottery-winning samples</tspan>.</text>
</g>

<!-- Algorithm -->
<line x1="2621" y1="1333" x2="3985" y2="1333" stroke="#000" stroke-width="3"/>
<line x1="2621" y1="1381" x2="3985" y2="1381" stroke="#000" stroke-width="2"/>
<line x1="2621" y1="2009" x2="3985" y2="2009" stroke="#000" stroke-width="3"/>
<text class="al" x="2621" y="1366" font-size="30" textLength="646" lengthAdjust="spacingAndGlyphs"><tspan class="b">Algorithm 1:</tspan> The execution pipeline of <tspan class="m">CONST</tspan></text>
<text class="al" x="2621" y="1416" textLength="1208" lengthAdjust="spacingAndGlyphs"><tspan class="b">Input:</tspan> The set of questions <tspan class="i">Q</tspan>, the original policy <tspan class="i">π</tspan>₀, the calibration set <tspan class="i">D</tspan>ᶜᵃˡ = {(<tspan class="i">X</tspan>ᵢᶜᵃˡ, <tspan class="i">Y</tspan>ᵢᶜᵃˡ)}ᵢ₌₁ᵐ</text>
<text class="al" x="2621" y="1450" textLength="722" lengthAdjust="spacingAndGlyphs">Initialize <tspan class="m">CalScoreList</tspan> and <tspan class="m">SizeList</tspan> as empty lists</text>
<text class="al" x="2621" y="1484" textLength="343" lengthAdjust="spacingAndGlyphs"><tspan class="b">for</tspan> iteration <tspan class="i">i</tspan> ← 1 <tspan class="b">to</tspan> <tspan class="i">m</tspan> <tspan class="b">do</tspan></text>
<text class="cm" x="3933" y="1484" textLength="533" lengthAdjust="spacingAndGlyphs">// Calibrate the scoring function</text>
<text class="al" x="2673" y="1523" textLength="1008" lengthAdjust="spacingAndGlyphs">Calculate the score <tspan class="i">f</tspan><tspan class="i">ᵖ</tspan>(<tspan class="i">X</tspan>ᵢᶜᵃˡ, <tspan class="i">Y</tspan>ᵢᶜᵃˡ) with Eq. <tspan fill="#c00000">9</tspan> and append it to <tspan class="m">CalScoreList</tspan></text>
<text class="al b" x="2621" y="1556">end</text>
<text class="al" x="2621" y="1602" textLength="99" lengthAdjust="spacingAndGlyphs">Find the</text>
<text class="al" x="2815" y="1585" font-size="21" text-anchor="middle">⌈(<tspan class="i">m</tspan>+1)(1−<tspan class="i">α</tspan>)⌉</text>
<line x1="2732" y1="1592" x2="2900" y2="1592" stroke="#000" stroke-width="2"/>
<text class="al i" x="2815" y="1614" font-size="20" text-anchor="middle">m</text>
<text class="al" x="2914" y="1602" textLength="420" lengthAdjust="spacingAndGlyphs">quantile of <tspan class="m">CalScoreList</tspan> as <tspan class="i">ρ̂</tspan></text>
<text class="al" x="2621" y="1640" textLength="343" lengthAdjust="spacingAndGlyphs"><tspan class="b">for</tspan> iteration <tspan class="i">i</tspan> ← 1 <tspan class="b">to</tspan> <tspan class="i">N</tspan> <tspan class="b">do</tspan></text>
<text class="cm" x="3933" y="1640" textLength="632" lengthAdjust="spacingAndGlyphs">// Obtain the conformal prediction sets</text>
<text class="al" x="2673" y="1675" textLength="974" lengthAdjust="spacingAndGlyphs">Calculate the multiset of possible answers <tspan class="i">B</tspan>(<tspan class="i">Xᵢ</tspan>) according to Eq. <tspan fill="#c00000">5</tspan> and Eq. <tspan fill="#c00000">6</tspan></text>
<text class="al" x="2673" y="1716" textLength="801" lengthAdjust="spacingAndGlyphs">Calculate the score <tspan class="i">f</tspan>ᵖ(<tspan class="i">Xᵢ</tspan>, <tspan class="i">Ŷᵢ</tspan>) for each <tspan class="i">Ŷᵢ</tspan> ∈ <tspan class="i">B</tspan>(<tspan class="i">Xᵢ</tspan>) with Eq. <tspan fill="#c00000">9</tspan></text>
<text class="al" x="2673" y="1762" textLength="1178" lengthAdjust="spacingAndGlyphs">Obtain the prediction set <tspan class="i">Ĉ</tspan>₁₋ₐ(<tspan class="i">X</tspan>) with <tspan class="i">ρ̂</tspan> using Eq. <tspan fill="#c00000">10</tspan> and append the size of it to <tspan class="m">SizeList</tspan></text>
<text class="al b" x="2621" y="1797">end</text>
<text class="al" x="2621" y="1833" textLength="503" lengthAdjust="spacingAndGlyphs">Cluster <tspan class="i">Q</tspan> into <tspan class="i">b</tspan> groups <tspan class="i">Q</tspan>₁, <tspan class="i">Q</tspan>₂, . . . , <tspan class="i">Q</tspan>ᵦ</text>
<text class="al" x="2621" y="1870" textLength="840" lengthAdjust="spacingAndGlyphs">Select the question with the largest size from each group to form <tspan class="i">Q</tspan>′</text>
<text class="cm" x="3933" y="1870" textLength="420" lengthAdjust="spacingAndGlyphs">// Select critical samples</text>
<text class="al" x="2621" y="1907" textLength="529" lengthAdjust="spacingAndGlyphs">Annotate <tspan class="i">Q</tspan>′ with ground truth answers <tspan class="i">A</tspan>′</text>
<text class="cm" x="3933" y="1907" textLength="436" lengthAdjust="spacingAndGlyphs">// Annotate several samples</text>
<text class="al" x="2621" y="1948" textLength="779" lengthAdjust="spacingAndGlyphs">Optimize <tspan class="i">π</tspan>₀ with <tspan class="i">Q</tspan>′ and <tspan class="i">A</tspan>′ to obtain the optimized model <tspan class="i">π</tspan>ᴾ</text>
<text class="cm" x="3933" y="1948" textLength="500" lengthAdjust="spacingAndGlyphs">// Optimize the policy using RL</text>
<text class="al" x="2621" y="1990" textLength="430" lengthAdjust="spacingAndGlyphs"><tspan class="b">return</tspan> <tspan class="i">π</tspan>ᴾ as the optimized model</text>
<g class="ln">
<text x="2610" y="1450">1</text><text x="2610" y="1484">2</text><text x="2610" y="1523">3</text><text x="2610" y="1556">4</text><text x="2610" y="1602">5</text><text x="2610" y="1640">6</text><text x="2610" y="1675">7</text><text x="2610" y="1716">8</text><text x="2610" y="1762">9</text><text x="2610" y="1797">10</text><text x="2610" y="1833">11</text><text x="2610" y="1870">12</text><text x="2610" y="1907">13</text><text x="2610" y="1948">14</text><text x="2610" y="1990">15</text>
</g>
<line x1="2640" y1="1498" x2="2640" y2="1538" stroke="#000" stroke-width="2"/>
<line x1="2640" y1="1650" x2="2640" y2="1772" stroke="#000" stroke-width="2"/>

<!-- Theory -->
<rect x="4002" y="1330" width="1015" height="103" fill="#2e3a62"/>
<rect x="4002" y="1433" width="1015" height="487" fill="#dce1f1"/>
<text class="hd bi u" x="4027" y="1402" textLength="182" lengthAdjust="spacingAndGlyphs">Theory</text>
<g class="bd">
<text x="4027" y="1506" textLength="824" lengthAdjust="spacingAndGlyphs">We theoretically show that with</text>
<text x="4027" y="1579" textLength="867" lengthAdjust="spacingAndGlyphs">sufficiently large question dataset</text>
<text x="4027" y="1655" textLength="905" lengthAdjust="spacingAndGlyphs">and verified rewards, our proposed</text>
<text x="4027" y="1732" textLength="900" lengthAdjust="spacingAndGlyphs">CONST can effectively approximate</text>
<text x="4027" y="1808" textLength="885" lengthAdjust="spacingAndGlyphs">the optimal policy parameter. (See</text>
<text x="4027" y="1883" textLength="828" lengthAdjust="spacingAndGlyphs">Section 3.6 Theoretical Analysis)</text>
</g>

<!-- Experiments -->
<rect x="2560" y="2042" width="1417" height="102" fill="#2e3a62"/>
<rect x="2560" y="2144" width="1417" height="718" fill="#dce1f1"/>
<text class="hd bi u" x="2588" y="2111" textLength="324" lengthAdjust="spacingAndGlyphs">Experiments</text>
<g class="bd">
<text x="2588" y="2214" textLength="1350" lengthAdjust="spacingAndGlyphs">0. Setup: reasoning models, math/science problems,</text>
<text x="2588" y="2289" textLength="777" lengthAdjust="spacingAndGlyphs">standard GRPO algorithm, etc.</text>
<text x="2588" y="2366" textLength="1191" lengthAdjust="spacingAndGlyphs">1. CONST significantly improves vanilla models</text>
<text x="2588" y="2443" textLength="1295" lengthAdjust="spacingAndGlyphs">across various scenarios, outperforming baselines.</text>
<text x="2588" y="2519" textLength="1339" lengthAdjust="spacingAndGlyphs">2. Training on <tspan class="i u">lottery-winning samples</tspan> (<tspan class="bi">&lt;0.5%</tspan> of the</text>
<text x="2588" y="2596" textLength="1172" lengthAdjust="spacingAndGlyphs">entire dataset) discovered by CONST achieves</text>
<text x="2588" y="2672" textLength="1279" lengthAdjust="spacingAndGlyphs"><tspan class="bi">comparable</tspan> results to training on the full dataset.</text>
<text x="2588" y="2748" textLength="758" lengthAdjust="spacingAndGlyphs">3. Implementation @ GitHub:</text>
<text x="2588" y="2824" textLength="1249" lengthAdjust="spacingAndGlyphs" class="i u">https://github.com/YushengZhao/SampleLottery</text>
</g>

<!-- ================= TABLE ================= -->
<rect x="4004" y="1978" width="1003" height="52" fill="#e7efdc"/>
<g fill="#f1f1f1">
<rect x="4004" y="2059" width="1003" height="25"/><rect x="4004" y="2109" width="1003" height="24"/><rect x="4004" y="2158" width="1003" height="25"/>
<rect x="4004" y="2266" width="1003" height="25"/><rect x="4004" y="2316" width="1003" height="24"/><rect x="4004" y="2365" width="1003" height="25"/>
<rect x="4004" y="2474" width="1003" height="25"/><rect x="4004" y="2524" width="1003" height="24"/><rect x="4004" y="2573" width="1003" height="25"/>
<rect x="4004" y="2681" width="1003" height="25"/><rect x="4004" y="2731" width="1003" height="24"/><rect x="4004" y="2780" width="1003" height="25"/>
</g>
<g fill="#fcf8df">
<rect x="4004" y="2184" width="1003" height="26"/><rect x="4004" y="2391" width="1003" height="26"/><rect x="4004" y="2599" width="1003" height="26"/><rect x="4004" y="2806" width="1003" height="26"/>
</g>
<g stroke="#000">
<line x1="4004" y1="1976.5" x2="5007" y2="1976.5" stroke-width="3"/>
<line x1="4004" y1="2030" x2="5007" y2="2030" stroke-width="2.5"/>
<line x1="4004" y1="2058" x2="5007" y2="2058" stroke-width="2"/>
<line x1="4004" y1="2183.5" x2="5007" y2="2183.5" stroke-width="1.5"/>
<line x1="4004" y1="2210.5" x2="5007" y2="2210.5" stroke-width="1.5"/>
<line x1="4004" y1="2237.5" x2="5007" y2="2237.5" stroke-width="3"/>
<line x1="4004" y1="2265" x2="5007" y2="2265" stroke-width="2"/>
<line x1="4004" y1="2390.5" x2="5007" y2="2390.5" stroke-width="1.5"/>
<line x1="4004" y1="2417.5" x2="5007" y2="2417.5" stroke-width="1.5"/>
<line x1="4004" y1="2444.5" x2="5007" y2="2444.5" stroke-width="3"/>
<line x1="4004" y1="2473" x2="5007" y2="2473" stroke-width="2"/>
<line x1="4004" y1="2598.5" x2="5007" y2="2598.5" stroke-width="1.5"/>
<line x1="4004" y1="2625.5" x2="5007" y2="2625.5" stroke-width="1.5"/>
<line x1="4004" y1="2652.5" x2="5007" y2="2652.5" stroke-width="3"/>
<line x1="4004" y1="2680" x2="5007" y2="2680" stroke-width="2"/>
<line x1="4004" y1="2805.5" x2="5007" y2="2805.5" stroke-width="1.5"/>
<line x1="4004" y1="2832.5" x2="5007" y2="2832.5" stroke-width="1.5"/>
<line x1="4004" y1="2859.5" x2="5007" y2="2859.5" stroke-width="3"/>
</g>
<text class="tb" x="4014" y="1997">Datasets</text>
<text class="tc" y="1997"><tspan x="4227">AMC23</tspan><tspan x="4401">MinervaMath</tspan><tspan x="4574">OlympiadBench</tspan><tspan x="4747">MATH500</tspan><tspan x="4920">AVG</tspan></text>
<text class="tb" x="4014" y="2023">Budget</text>
<text class="tc" y="2023"><tspan x="4184">4</tspan><tspan x="4271">8</tspan><tspan x="4357">4</tspan><tspan x="4444">8</tspan><tspan x="4530">4</tspan><tspan x="4617">8</tspan><tspan x="4704">4</tspan><tspan x="4790">8</tspan><tspan x="4876">4</tspan><tspan x="4963">8</tspan></text>

<text class="m" x="4014" y="2051" font-size="22">LLaMA-3.1-8B-Instruct</text>
<text class="tb" x="4014" y="2079">NoFinetuning</text>
<text class="tc" y="2079"><tspan x="4227">18.03</tspan><tspan x="4401">14.37</tspan><tspan x="4574">12.28</tspan><tspan x="4747">35.79</tspan><tspan x="4920">20.12</tspan></text>
<text class="tb" x="4014" y="2103">RandSelect</text>
<text class="tc" y="2103"><tspan x="4184">19.48</tspan><tspan x="4271">18.34</tspan><tspan x="4357">16.77</tspan><tspan x="4444">18.05</tspan><tspan x="4530" class="u">13.54</tspan><tspan x="4617">13.87</tspan><tspan x="4704">39.02</tspan><tspan x="4790">39.03</tspan><tspan x="4876">22.20</tspan><tspan x="4963">22.32</tspan></text>
<text class="tb" x="4014" y="2128">EntSampling</text>
<text class="tc" y="2128"><tspan x="4184" class="u">20.42</tspan><tspan x="4271">19.70</tspan><tspan x="4357">16.66</tspan><tspan x="4444">18.12</tspan><tspan x="4530">13.43</tspan><tspan x="4617">13.14</tspan><tspan x="4704">37.29</tspan><tspan x="4790">36.33</tspan><tspan x="4876">21.95</tspan><tspan x="4963">21.82</tspan></text>
<text class="tb" x="4014" y="2152">BADGE</text>
<text class="tc" y="2152"><tspan x="4184">19.34</tspan><tspan x="4271">20.02</tspan><tspan x="4357" class="u">20.25</tspan><tspan x="4444" class="u">19.28</tspan><tspan x="4530">13.27</tspan><tspan x="4617">13.81</tspan><tspan x="4704" class="u">41.72</tspan><tspan x="4790">42.68</tspan><tspan x="4876" class="u">23.95</tspan><tspan x="4963">23.65</tspan></text>
<text class="tb" x="4014" y="2177">CEC</text>
<text class="tc" y="2177"><tspan x="4184">20.25</tspan><tspan x="4271" class="u">21.24</tspan><tspan x="4357">16.66</tspan><tspan x="4444">18.50</tspan><tspan x="4530">13.05</tspan><tspan x="4617" class="u">15.02</tspan><tspan x="4704">38.03</tspan><tspan x="4790" class="u">42.97</tspan><tspan x="4876">21.79</tspan><tspan x="4963" class="u">24.43</tspan></text>
<text class="tb" x="4014" y="2204"><tspan class="m">CONST</tspan> (ours)</text>
<text class="tc b" y="2204"><tspan x="4184">20.62</tspan><tspan x="4271">24.27</tspan><tspan x="4357">21.68</tspan><tspan x="4444">24.19</tspan><tspan x="4530">16.83</tspan><tspan x="4617">17.61</tspan><tspan x="4704">43.46</tspan><tspan x="4790">47.17</tspan><tspan x="4876">25.65</tspan><tspan x="4963">28.31</tspan></text>
<text class="tb tg" x="4014" y="2231">FullDataset</text>
<text class="tc tg" y="2231"><tspan x="4227">24.30</tspan><tspan x="4401">20.99</tspan><tspan x="4574">18.23</tspan><tspan x="4747">48.58</tspan><tspan x="4920">28.03</tspan></text>

<text class="m" x="4014" y="2258" font-size="22">DeepSeek-R1-Distill-Qwen-1.5B</text>
<text class="tb" x="4014" y="2286">NoFinetuning</text>
<text class="tc" y="2286"><tspan x="4227">30.94</tspan><tspan x="4401">14.17</tspan><tspan x="4574">17.68</tspan><tspan x="4747">50.03</tspan><tspan x="4920">28.21</tspan></text>
<text class="tb" x="4014" y="2310">RandSelect</text>
<text class="tc" y="2310"><tspan x="4184">40.96</tspan><tspan x="4271">54.55</tspan><tspan x="4357">19.28</tspan><tspan x="4444" class="u">23.31</tspan><tspan x="4530">25.02</tspan><tspan x="4617" class="u">33.68</tspan><tspan x="4704">64.29</tspan><tspan x="4790" class="u">72.96</tspan><tspan x="4876">37.39</tspan><tspan x="4963" class="u">46.13</tspan></text>
<text class="tb" x="4014" y="2335">EntSampling</text>
<text class="tc" y="2335"><tspan x="4184" class="u">54.91</tspan><tspan x="4271" class="u">54.88</tspan><tspan x="4357" class="u">22.23</tspan><tspan x="4444">22.55</tspan><tspan x="4530" class="u">32.68</tspan><tspan x="4617">32.98</tspan><tspan x="4704" class="u">71.79</tspan><tspan x="4790">71.97</tspan><tspan x="4876" class="u">45.40</tspan><tspan x="4963">45.60</tspan></text>
<text class="tb" x="4014" y="2359">BADGE</text>
<text class="tc" y="2359"><tspan x="4184">42.84</tspan><tspan x="4271">50.13</tspan><tspan x="4357">21.39</tspan><tspan x="4444">23.20</tspan><tspan x="4530">27.62</tspan><tspan x="4617">30.76</tspan><tspan x="4704">67.73</tspan><tspan x="4790">71.04</tspan><tspan x="4876">39.90</tspan><tspan x="4963">43.78</tspan></text>
<text class="tb" x="4014" y="2384">CEC</text>
<text class="tc" y="2384"><tspan x="4184">49.75</tspan><tspan x="4271">51.46</tspan><tspan x="4357">21.88</tspan><tspan x="4444">22.14</tspan><tspan x="4530">30.50</tspan><tspan x="4617">31.50</tspan><tspan x="4704">69.96</tspan><tspan x="4790">71.44</tspan><tspan x="4876">43.02</tspan><tspan x="4963">44.14</tspan></text>
<text class="tb" x="4014" y="2411"><tspan class="m">CONST</tspan> (ours)</text>
<text class="tc b" y="2411"><tspan x="4184">55.84</tspan><tspan x="4271">59.16</tspan><tspan x="4357">23.17</tspan><tspan x="4444">23.66</tspan><tspan x="4530">33.66</tspan><tspan x="4617">34.90</tspan><tspan x="4704">73.61</tspan><tspan x="4790">74.84</tspan><tspan x="4876">46.57</tspan><tspan x="4963">48.14</tspan></text>
<text class="tb tg" x="4014" y="2438">FullDataset</text>
<text class="tc tg" y="2438"><tspan x="4227">60.27</tspan><tspan x="4401">24.55</tspan><tspan x="4574">36.30</tspan><tspan x="4747">75.49</tspan><tspan x="4920">49.15</tspan></text>

<text class="m" x="4014" y="2466" font-size="22">Qwen2.5-Math-1.5B</text>
<text class="tb" x="4014" y="2494">NoFinetuning</text>
<text class="tc" y="2494"><tspan x="4227">31.74</tspan><tspan x="4401">9.47</tspan><tspan x="4574">21.72</tspan><tspan x="4747">36.23</tspan><tspan x="4920">24.79</tspan></text>
<text class="tb" x="4014" y="2518">RandSelect</text>
<text class="tc" y="2518"><tspan x="4184" class="u">44.66</tspan><tspan x="4271" class="u">46.88</tspan><tspan x="4357">15.19</tspan><tspan x="4444" class="u">21.35</tspan><tspan x="4530" class="u">30.94</tspan><tspan x="4617">30.46</tspan><tspan x="4704" class="u">64.32</tspan><tspan x="4790">65.74</tspan><tspan x="4876">38.78</tspan><tspan x="4963">41.11</tspan></text>
<text class="tb" x="4014" y="2543">EntSampling</text>
<text class="tc" y="2543"><tspan x="4184">40.64</tspan><tspan x="4271">42.43</tspan><tspan x="4357">17.69</tspan><tspan x="4444">20.62</tspan><tspan x="4530">27.24</tspan><tspan x="4617">27.32</tspan><tspan x="4704">59.79</tspan><tspan x="4790">62.26</tspan><tspan x="4876">36.34</tspan><tspan x="4963">38.16</tspan></text>
<text class="tb" x="4014" y="2567">BADGE</text>
<text class="tc" y="2567"><tspan x="4184">44.61</tspan><tspan x="4271">46.73</tspan><tspan x="4357" class="u">19.91</tspan><tspan x="4444">20.97</tspan><tspan x="4530">28.87</tspan><tspan x="4617">29.54</tspan><tspan x="4704">63.69</tspan><tspan x="4790">64.88</tspan><tspan x="4876" class="u">39.27</tspan><tspan x="4963">40.53</tspan></text>
<text class="tb" x="4014" y="2592">CEC</text>
<text class="tc" y="2592"><tspan x="4184">42.42</tspan><tspan x="4271">45.32</tspan><tspan x="4357">13.67</tspan><tspan x="4444">21.24</tspan><tspan x="4530">28.00</tspan><tspan x="4617" class="u">30.88</tspan><tspan x="4704">59.11</tspan><tspan x="4790" class="u">68.87</tspan><tspan x="4876">35.80</tspan><tspan x="4963" class="u">41.58</tspan></text>
<text class="tb" x="4014" y="2619"><tspan class="m">CONST</tspan> (ours)</text>
<text class="tc b" y="2619"><tspan x="4184">47.19</tspan><tspan x="4271">48.42</tspan><tspan x="4357">20.01</tspan><tspan x="4444">24.54</tspan><tspan x="4530">32.05</tspan><tspan x="4617">32.75</tspan><tspan x="4704">67.68</tspan><tspan x="4790">69.58</tspan><tspan x="4876">41.73</tspan><tspan x="4963">43.82</tspan></text>
<text class="tb tg" x="4014" y="2646">FullDataset</text>
<text class="tc tg" y="2646"><tspan x="4227">49.13</tspan><tspan x="4401">24.30</tspan><tspan x="4574">33.33</tspan><tspan x="4747">70.88</tspan><tspan x="4920">44.41</tspan></text>

<text class="m" x="4014" y="2673" font-size="22">Qwen2.5-Math-7B</text>
<text class="tb" x="4014" y="2701">NoFinetuning</text>
<text class="tc" y="2701"><tspan x="4227">56.04</tspan><tspan x="4401">33.90</tspan><tspan x="4574">37.28</tspan><tspan x="4747">81.03</tspan><tspan x="4920">52.06</tspan></text>
<text class="tb" x="4014" y="2725">RandSelect</text>
<text class="tc" y="2725"><tspan x="4184" class="u">57.05</tspan><tspan x="4271">57.48</tspan><tspan x="4357">35.26</tspan><tspan x="4444" class="u">35.91</tspan><tspan x="4530">38.29</tspan><tspan x="4617">38.77</tspan><tspan x="4704">81.58</tspan><tspan x="4790">81.90</tspan><tspan x="4876">53.05</tspan><tspan x="4963">53.52</tspan></text>
<text class="tb" x="4014" y="2750">EntSampling</text>
<text class="tc" y="2750"><tspan x="4184">56.95</tspan><tspan x="4271">57.87</tspan><tspan x="4357" class="u">35.36</tspan><tspan x="4444">35.37</tspan><tspan x="4530" class="u">38.46</tspan><tspan x="4617">38.63</tspan><tspan x="4704" class="u">81.88</tspan><tspan x="4790">81.89</tspan><tspan x="4876" class="u">53.16</tspan><tspan x="4963">53.44</tspan></text>
<text class="tb" x="4014" y="2774">BADGE</text>
<text class="tc" y="2774"><tspan x="4184">54.36</tspan><tspan x="4271">56.76</tspan><tspan x="4357">34.12</tspan><tspan x="4444">35.08</tspan><tspan x="4530">37.63</tspan><tspan x="4617">38.92</tspan><tspan x="4704">80.81</tspan><tspan x="4790" class="u">82.25</tspan><tspan x="4876">51.73</tspan><tspan x="4963">53.25</tspan></text>
<text class="tb" x="4014" y="2799">CEC</text>
<text class="tc" y="2799"><tspan x="4184">56.03</tspan><tspan x="4271" class="u">58.28</tspan><tspan x="4357">34.73</tspan><tspan x="4444">35.21</tspan><tspan x="4530">38.41</tspan><tspan x="4617" class="u">39.18</tspan><tspan x="4704">81.70</tspan><tspan x="4790">82.16</tspan><tspan x="4876">52.72</tspan><tspan x="4963" class="u">53.71</tspan></text>
<text class="tb" x="4014" y="2826"><tspan class="m">CONST</tspan> (ours)</text>
<text class="tc b" y="2826"><tspan x="4184">58.21</tspan><tspan x="4271">59.05</tspan><tspan x="4357">35.83</tspan><tspan x="4444">36.97</tspan><tspan x="4530">39.56</tspan><tspan x="4617">40.19</tspan><tspan x="4704">82.94</tspan><tspan x="4790">83.55</tspan><tspan x="4876">54.14</tspan><tspan x="4963">54.94</tspan></text>
<text class="tb tg" x="4014" y="2853">FullDataset</text>
<text class="tc tg" y="2853"><tspan x="4227">58.70</tspan><tspan x="4401">36.66</tspan><tspan x="4574">41.04</tspan><tspan x="4747">83.61</tspan><tspan x="4920">55.00</tspan></text>
</svg>
</body></html>
